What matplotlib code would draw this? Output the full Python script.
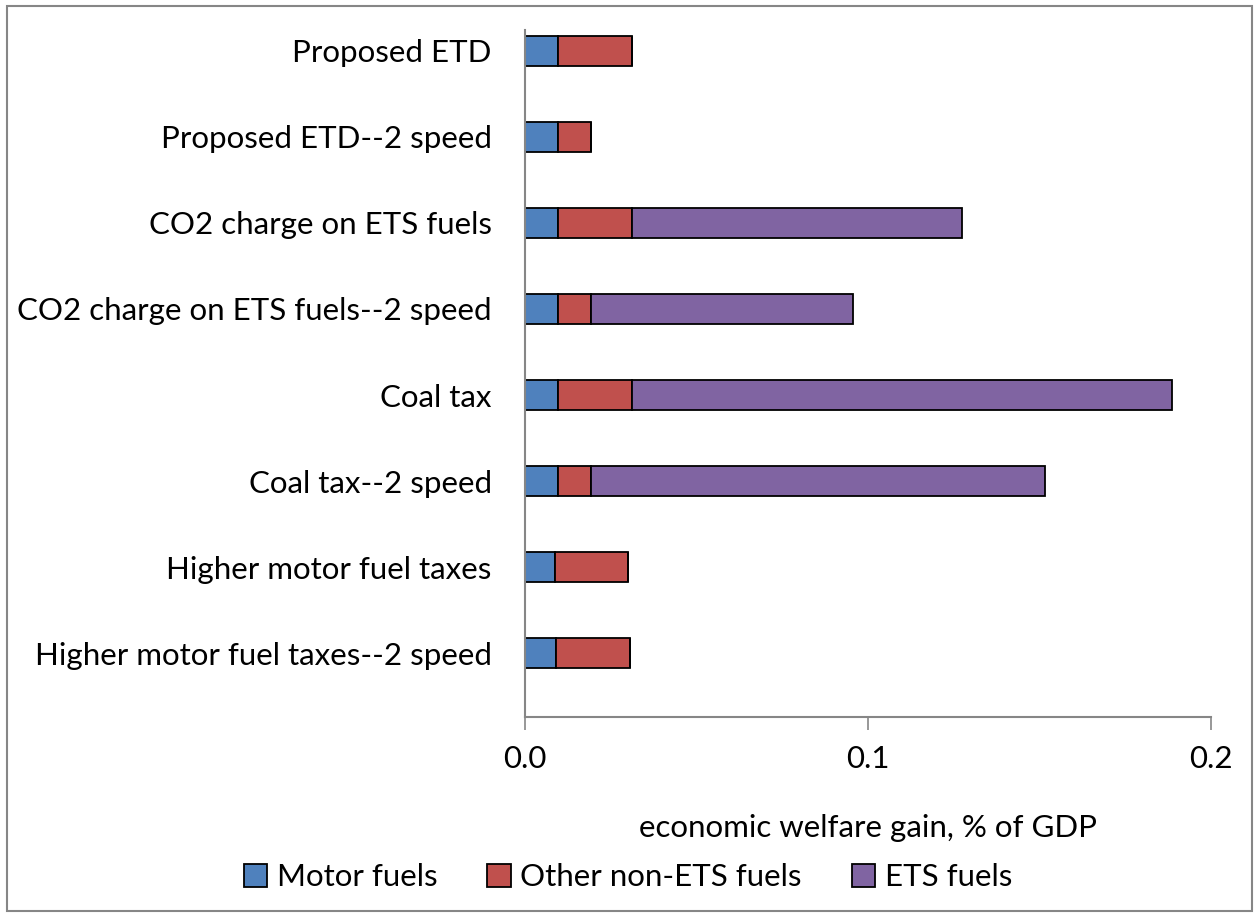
import matplotlib.pyplot as plt
from matplotlib.patches import Rectangle
import numpy as np

plt.rcParams['font.family'] = ['Lato', 'DejaVu Sans']

# data
scenarios = ["Proposed ETD", "Proposed ETD--2 speed", "CO2 charge on ETS fuels",
             "CO2 charge on ETS fuels--2 speed", "Coal tax", "Coal tax--2 speed",
             "Higher motor fuel taxes", "Higher motor fuel taxes--2 speed"]
motor_fuels = [0.0096, 0.0096, 0.0096, 0.0096, 0.0096, 0.0096, 0.0088, 0.0091]
other_non_ets = [0.0216, 0.0096, 0.0216, 0.0096, 0.0216, 0.0096, 0.0212, 0.0215]
ets_fuels = [0.0, 0.0, 0.0962, 0.0764, 0.1574, 0.1324, 0.0, 0.0]

colors = ["#4F81BD", "#C0504D", "#8064A2"]
names = ["Motor fuels", "Other non-ETS fuels", "ETS fuels"]

W, H = 1257, 913
fs = 22.5
fig = plt.figure(figsize=(W / 100, H / 100), dpi=100)
ax = fig.add_axes([525 / W, 1 - 717 / H, (1211 - 525) / W, (717 - 30) / H])

y = np.arange(len(scenarios))
left = np.zeros(len(scenarios))
for vals, c, n in zip([motor_fuels, other_non_ets, ets_fuels], colors, names):
    vals = np.array(vals)
    ax.barh(y, vals, left=left, height=0.34, color=c, edgecolor="black",
            linewidth=1.3, label=n)
    left += vals

ax.set_ylim(7.744, -0.244)
ax.set_xlim(0, 0.2)
ax.set_xticks([0, 0.1, 0.2])
ax.set_xticklabels(["0.0", "0.1", "0.2"])
ax.set_yticks(y)
ax.set_yticklabels(scenarios)
ax.tick_params(axis="y", length=0, pad=24, labelsize=fs)
ax.tick_params(axis="x", length=9, width=1.2, color="#868686", pad=11, labelsize=fs)
for s in ["top", "right"]:
    ax.spines[s].set_visible(False)
for s in ["left", "bottom"]:
    ax.spines[s].set_color("#868686")
    ax.spines[s].set_linewidth(1.5)
ax.set_xlabel("economic welfare gain, % of GDP", fontsize=fs, labelpad=30)

fig.legend(loc="center", bbox_to_anchor=(628 / W, 1 - 877 / H), ncol=3,
           frameon=False, fontsize=fs, handlelength=0.75, handleheight=0.75,
           handletextpad=0.3, columnspacing=1.6)

fig.patches.append(Rectangle((7 / W, 1 - 911 / H), (1252 - 7) / W, (911 - 6) / H,
                             transform=fig.transFigure, fill=False,
                             edgecolor="#868686", linewidth=1.5))

fig.savefig("out.png", dpi=100)
